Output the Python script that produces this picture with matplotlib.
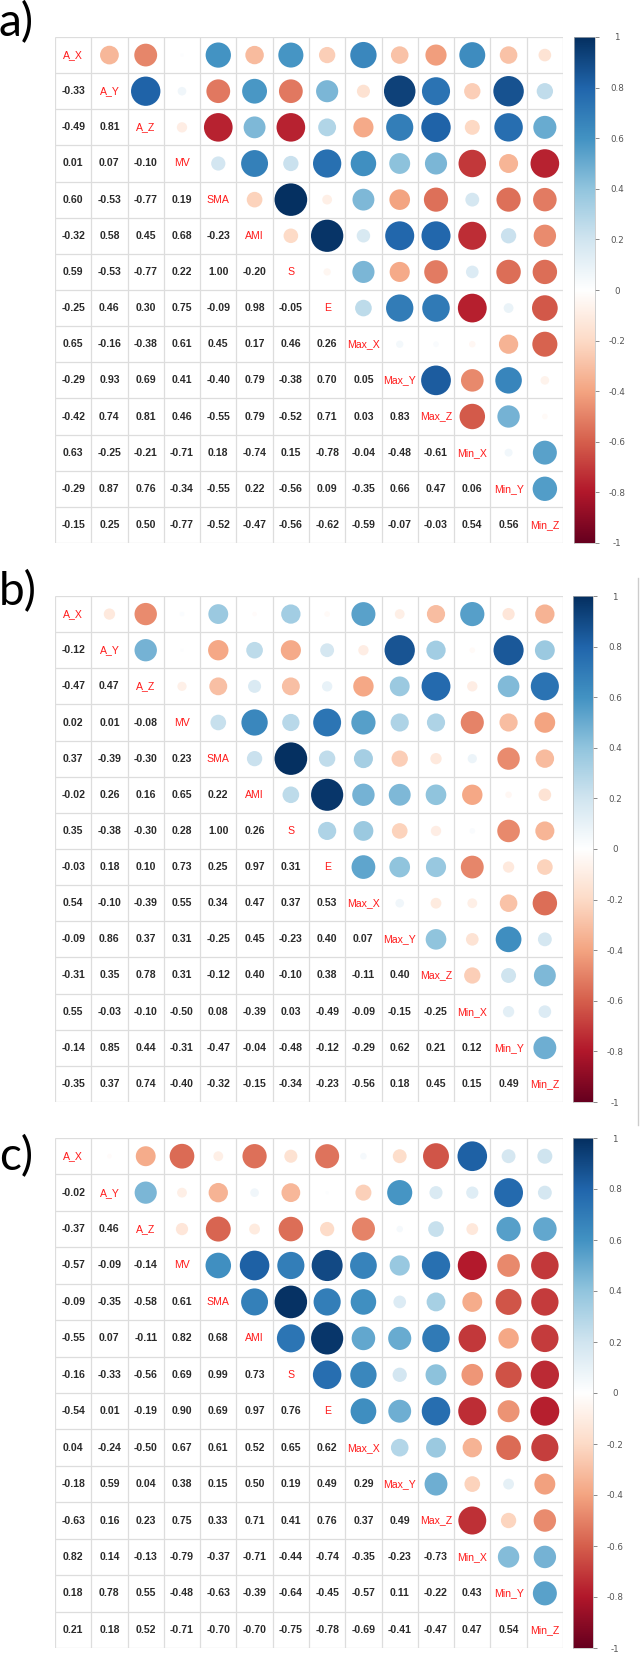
import numpy as np
import matplotlib.pyplot as plt
from matplotlib.colors import LinearSegmentedColormap, Normalize
from matplotlib.patches import Circle
from matplotlib.lines import Line2D

# variable names (diagonal)
labels = ['A_X', 'A_Y', 'A_Z', 'MV', 'SMA', 'AMI', 'S', 'E',
          'Max_X', 'Max_Y', 'Max_Z', 'Min_X', 'Min_Y', 'Min_Z']

# lower triangles, row by row (row A_Y .. Min_Z)
lower_a = [
    [-0.33],
    [-0.49, 0.81],
    [0.01, 0.07, -0.10],
    [0.60, -0.53, -0.77, 0.19],
    [-0.32, 0.58, 0.45, 0.68, -0.23],
    [0.59, -0.53, -0.77, 0.22, 1.00, -0.20],
    [-0.25, 0.46, 0.30, 0.75, -0.09, 0.98, -0.05],
    [0.65, -0.16, -0.38, 0.61, 0.45, 0.17, 0.46, 0.26],
    [-0.29, 0.93, 0.69, 0.41, -0.40, 0.79, -0.38, 0.70, 0.05],
    [-0.42, 0.74, 0.81, 0.46, -0.55, 0.79, -0.52, 0.71, 0.03, 0.83],
    [0.63, -0.25, -0.21, -0.71, 0.18, -0.74, 0.15, -0.78, -0.04, -0.48, -0.61],
    [-0.29, 0.87, 0.76, -0.34, -0.55, 0.22, -0.56, 0.09, -0.35, 0.66, 0.47, 0.06],
    [-0.15, 0.25, 0.50, -0.77, -0.52, -0.47, -0.56, -0.62, -0.59, -0.07, -0.03, 0.54, 0.56],
]

lower_b = [
    [-0.12],
    [-0.47, 0.47],
    [0.02, 0.01, -0.08],
    [0.37, -0.39, -0.30, 0.23],
    [-0.02, 0.26, 0.16, 0.65, 0.22],
    [0.35, -0.38, -0.30, 0.28, 1.00, 0.26],
    [-0.03, 0.18, 0.10, 0.73, 0.25, 0.97, 0.31],
    [0.54, -0.10, -0.39, 0.55, 0.34, 0.47, 0.37, 0.53],
    [-0.09, 0.86, 0.37, 0.31, -0.25, 0.45, -0.23, 0.40, 0.07],
    [-0.31, 0.35, 0.78, 0.31, -0.12, 0.40, -0.10, 0.38, -0.11, 0.40],
    [0.55, -0.03, -0.10, -0.50, 0.08, -0.39, 0.03, -0.49, -0.09, -0.15, -0.25],
    [-0.14, 0.85, 0.44, -0.31, -0.47, -0.04, -0.48, -0.12, -0.29, 0.62, 0.21, 0.12],
    [-0.35, 0.37, 0.74, -0.40, -0.32, -0.15, -0.34, -0.23, -0.56, 0.18, 0.45, 0.15, 0.49],
]

lower_c = [
    [-0.02],
    [-0.37, 0.46],
    [-0.57, -0.09, -0.14],
    [-0.09, -0.35, -0.58, 0.61],
    [-0.55, 0.07, -0.11, 0.82, 0.68],
    [-0.16, -0.33, -0.56, 0.69, 0.99, 0.73],
    [-0.54, 0.01, -0.19, 0.90, 0.69, 0.97, 0.76],
    [0.04, -0.24, -0.50, 0.67, 0.61, 0.52, 0.65, 0.62],
    [-0.18, 0.59, 0.04, 0.38, 0.15, 0.50, 0.19, 0.49, 0.29],
    [-0.63, 0.16, 0.23, 0.75, 0.33, 0.71, 0.41, 0.76, 0.37, 0.49],
    [0.82, 0.14, -0.13, -0.79, -0.37, -0.71, -0.44, -0.74, -0.35, -0.23, -0.73],
    [0.18, 0.78, 0.55, -0.48, -0.63, -0.39, -0.64, -0.45, -0.57, 0.11, -0.22, 0.43],
    [0.21, 0.18, 0.52, -0.71, -0.70, -0.70, -0.75, -0.78, -0.69, -0.41, -0.47, 0.47, 0.54],
]

panel_names = ['a)', 'b)', 'c)']

W, H = 640, 1653

# corrplot RdBu palette
cmap = LinearSegmentedColormap.from_list('corr', [
    '#67001F', '#B2182B', '#D6604D', '#F4A582', '#FDDBC7', '#FFFFFF',
    '#D1E5F0', '#92C5DE', '#4393C3', '#2166AC', '#053061'])
norm = Normalize(-1, 1)


def full_matrix(lower):
    n = len(lower) + 1
    m = np.eye(n)
    for i, row in enumerate(lower):
        for j, v in enumerate(row):
            m[i + 1, j] = v
            m[j, i + 1] = v
    return m


def box(left, top, right, bottom):  # pixel box -> figure fraction
    return [left / W, 1 - bottom / H, (right - left) / W, (bottom - top) / H]


def draw_corr(ax, m):
    n = len(m)
    ax.set_xlim(0, n)
    ax.set_ylim(n, 0)
    ax.axis('off')
    ax.hlines(np.arange(n + 1), 0, n, color='#dddddd', lw=0.9, zorder=1)
    ax.vlines(np.arange(n + 1), 0, n, color='#dddddd', lw=0.9, zorder=1)
    for i in range(n):
        for j in range(n):
            v = m[i, j]
            if i == j:
                ax.text(j + 0.5, i + 0.5, labels[i], ha='center', va='center',
                        color='#ff1a1a', fontsize=7.6, family='Liberation Sans')
            elif i > j:
                ax.text(j + 0.5, i + 0.5, '%.2f' % v, ha='center', va='center',
                        color='#2a2a2a', fontsize=7.6, fontweight='bold',
                        family='Liberation Sans')
            else:
                r = 0.45 * np.sqrt(abs(v))
                ax.add_patch(Circle((j + 0.5, i + 0.5), r, color=cmap(norm(v)),
                                    lw=0, zorder=2))


def draw_bar(cax):
    grad = np.linspace(1, -1, 256)[:, None]
    cax.imshow(grad, cmap=cmap, norm=norm, aspect='auto', extent=(0, 1, -1, 1))
    cax.set_xticks([])
    cax.yaxis.tick_right()
    ticks = np.round(np.arange(-1, 1.01, 0.2), 1)
    cax.set_yticks(ticks)
    tl = []
    for t in ticks:
        if abs(t) < 1e-9:
            tl.append('0')
        elif abs(abs(t) - 1) < 1e-9:
            tl.append('%d' % t)
        else:
            tl.append('%.1f' % t)
    cax.set_yticklabels(tl)
    cax.tick_params(axis='y', length=3, width=0.6, color='#777777',
                    labelsize=6.3, labelcolor='#555555', pad=13)
    for lab in cax.get_yticklabels():
        lab.set_horizontalalignment('center')
    for s in cax.spines.values():
        s.set_color('#bbbbbb')
        s.set_linewidth(0.5)


fig = plt.figure(figsize=(W / 100, H / 100), dpi=100)

mats = [full_matrix(lower_a), full_matrix(lower_b), full_matrix(lower_c)]
grid_boxes = [(55, 37, 563, 543), (55, 596, 563, 1102), (55, 1138, 563, 1648)]
bar_boxes = [(574, 37, 595, 543), (573, 596, 593, 1102), (573, 1138, 593, 1648)]
label_base = [36, 605, 1170]

for m, gb, bb, name, yb in zip(mats, grid_boxes, bar_boxes, panel_names, label_base):
    ax = fig.add_axes(box(*gb))
    draw_corr(ax, m)
    cax = fig.add_axes(box(*bb))
    draw_bar(cax)
    fig.text(-1 / W, 1 - yb / H, name, fontsize=33, family='Lato',
             ha='left', va='baseline')

# thin border line to the right of panel b
fig.add_artist(Line2D([638 / W, 638 / W], [1 - 578 / H, 1 - 1125 / H],
                      color='#cccccc', lw=1))

fig.savefig('out.png', dpi=100)
